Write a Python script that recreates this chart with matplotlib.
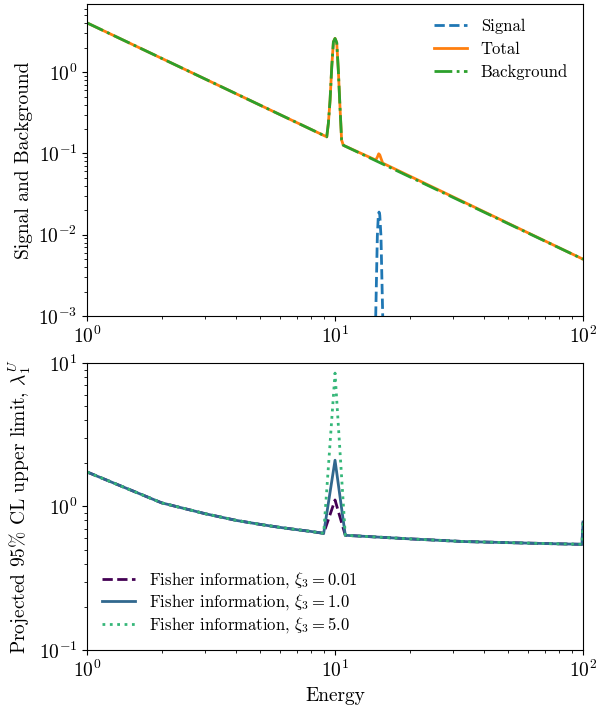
import matplotlib
matplotlib.use('Agg')
import matplotlib.pyplot as plt

plt.rcParams['font.family'] = 'cmr10'
plt.rcParams['mathtext.fontset'] = 'cm'
plt.rcParams['axes.formatter.use_mathtext'] = True
plt.rcParams['axes.unicode_minus'] = False
plt.rcParams['font.size'] = 14

# Top panel: spectra
bkg_energy = [1.0, 9.26, 9.40, 9.55, 9.70, 9.85, 10.0, 10.08, 10.16, 10.31, 10.47, 10.63, 10.80, 100.0]
bkg_value = [4.04, 0.160, 0.234, 0.453, 1.16, 2.36, 2.60, 2.45, 2.30, 1.06, 0.375, 0.146, 0.126, 0.0050]

total_energy = [1.0, 9.26, 9.40, 9.55, 9.70, 9.85, 10.0, 10.08, 10.16, 10.31, 10.47, 10.63, 10.80,
                14.59, 14.81, 15.0, 15.15, 15.32, 15.57, 100.0]
total_value = [4.04, 0.160, 0.234, 0.453, 1.16, 2.36, 2.60, 2.45, 2.30, 1.06, 0.375, 0.146, 0.126,
               0.0830, 0.090, 0.099, 0.096, 0.087, 0.0760, 0.0050]

sig_energy = [14.40, 14.59, 14.81, 14.95, 15.05, 15.15, 15.32, 15.57, 15.75]
sig_value = [1e-5, 1e-3, 0.0095, 0.0175, 0.019, 0.0175, 0.0095, 1e-3, 1e-5]

# Bottom panel: projected upper limits
lim_energy = [1, 2, 3, 4, 5, 6, 7, 8, 9, 10, 11, 20, 33, 50, 70, 99, 100]
lim_xi001 = [1.74, 1.06, 0.89, 0.80, 0.75, 0.715, 0.69, 0.67, 0.65, 1.11, 0.63, 0.595, 0.57, 0.56, 0.552, 0.545, 0.78]
lim_xi1 = [1.74, 1.06, 0.89, 0.80, 0.75, 0.715, 0.69, 0.67, 0.65, 2.10, 0.63, 0.595, 0.57, 0.56, 0.552, 0.545, 0.78]
lim_xi5 = [1.74, 1.06, 0.89, 0.80, 0.75, 0.715, 0.69, 0.67, 0.65, 8.50, 0.63, 0.595, 0.57, 0.56, 0.552, 0.545, 0.78]
xi_labels = ['0.01', '1.0', '5.0']

fig = plt.figure(figsize=(5.98, 7.07), dpi=100)
ax1 = fig.add_axes([0.1455, 0.553, 0.8295, 0.4414])
ax2 = fig.add_axes([0.1455, 0.0806, 0.8295, 0.406])

ax1.plot(sig_energy, sig_value, '--', color='C0', lw=2, label='Signal')
ax1.plot(total_energy, total_value, '-', color='C1', lw=2, label='Total')
ax1.plot(bkg_energy, bkg_value, '-.', color='C2', lw=2, label='Background')
ax1.set_xscale('log')
ax1.set_yscale('log')
ax1.set_xlim(1, 100)
ax1.set_ylim(1e-3, 6.9)
ax1.set_ylabel('Signal and Background')
ax1.legend(loc='upper right', frameon=False, fontsize=12, labelspacing=0.44)

cols = plt.cm.viridis([0.0, 0.333, 0.667])
styles = ['--', '-', ':']
for vals, c, ls, xi in zip([lim_xi001, lim_xi1, lim_xi5], cols, styles, xi_labels):
    ax2.plot(lim_energy, vals, ls, color=c, lw=2,
             label=r'Fisher information, $\xi_3 = %s$' % xi)
ax2.set_xscale('log')
ax2.set_yscale('log')
ax2.set_xlim(1, 100)
ax2.set_ylim(0.1, 10)
ax2.set_xlabel('Energy')
ax2.set_ylabel(r'Projected 95% CL upper limit, $\lambda_1^U$')
ax2.legend(loc='lower left', frameon=False, fontsize=12, labelspacing=0.16)

fig.savefig('out.png', dpi=100)
